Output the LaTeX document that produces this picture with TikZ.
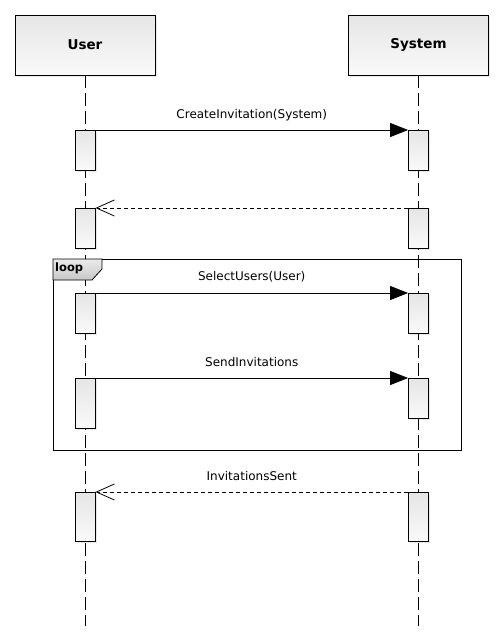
\documentclass[tikz,border=0pt]{standalone}
\usepackage{fontspec}
\setmainfont{DejaVu Sans}
\usetikzlibrary{arrows.meta,shadows}
\begin{document}
\begin{tikzpicture}[x=1pt,y=-1pt,
  shade/.style={top color=black!10, bottom color=black!2},
  shad/.style={drop shadow={opacity=0.18,shadow xshift=1.5pt,shadow yshift=-1.5pt}},
  actor/.style={draw=black, line width=0.8pt, shade, shad, minimum width=140pt, minimum height=60pt, inner sep=0pt, font=\fontsize{13.5}{15}\selectfont\bfseries},
  act/.style={draw=black, line width=0.8pt, shade, shad, minimum width=20pt, inner sep=0pt},
  life/.style={dash pattern=on 13pt off 5pt, line width=0.8pt},
  msg/.style={-{Triangle[length=18pt,width=14pt]}, line width=0.8pt},
  ret/.style={dash pattern=on 4pt off 3pt, -{Straight Barb[length=18pt,width=16pt,line width=0.8pt]}, line width=0.8pt},
  lbl/.style={font=\fontsize{12}{14}\selectfont, inner sep=0pt},
  frame/.style={draw=black, line width=0.8pt},
  tab/.style={draw=black, line width=0.8pt, top color=black!8, bottom color=black!22}
]
\useasboundingbox (0,0) rectangle (504,641);
% headers
\node[actor] (user) at (85,45) {User};
\node[actor] (sys) at (418.5,45) {System};
\coordinate (ue) at (85,626);
\coordinate (se) at (418.5,626);
\draw[life] (user.south) -- (ue);
\draw[life] (sys.south) -- (se);
% loop frame
\node[frame, anchor=north west, minimum width=408pt, minimum height=191pt, inner sep=0pt] (loopf) at (53,259) {};
\draw[tab] (loopf.north west) -- ++(49,0) -- ++(0,10) -- ++(-10,11) -- ++(-39,0) -- cycle;
\node[font=\fontsize{11.5}{13}\selectfont\bfseries, anchor=west, inner sep=0pt] (looplbl) at (55,268.5) {loop};
% activations
\node[act, minimum height=40pt, anchor=north] (u1) at (85,130) {};
\node[act, minimum height=40pt, anchor=north] (s1) at (418.5,130) {};
\node[act, minimum height=40pt, anchor=north] (u2) at (85,208) {};
\node[act, minimum height=40pt, anchor=north] (s2) at (418.5,208) {};
\node[act, minimum height=40pt, anchor=north] (u3) at (85,293) {};
\node[act, minimum height=40pt, anchor=north] (s3) at (418.5,293) {};
\node[act, minimum height=50pt, anchor=north] (u4) at (85,378) {};
\node[act, minimum height=40pt, anchor=north] (s4) at (418.5,378) {};
\node[act, minimum height=49pt, anchor=north] (u5) at (85,492) {};
\node[act, minimum height=49pt, anchor=north] (s5) at (418.5,492) {};
% messages
\draw[msg] (u1.north east) -- (s1.north west) node[lbl, midway, yshift=15pt] {CreateInvitation(System)};
\draw[ret] (s2.north west) -- (u2.north east);
\draw[msg] (u3.north east) -- (s3.north west) node[lbl, midway, yshift=16pt] {SelectUsers(User)};
\draw[msg] (u4.north east) -- (s4.north west) node[lbl, midway, yshift=16pt] {SendInvitations};
\draw[ret] (s5.north west) -- (u5.north east) node[lbl, midway, yshift=16pt] {InvitationsSent};
\end{tikzpicture}
\end{document}
